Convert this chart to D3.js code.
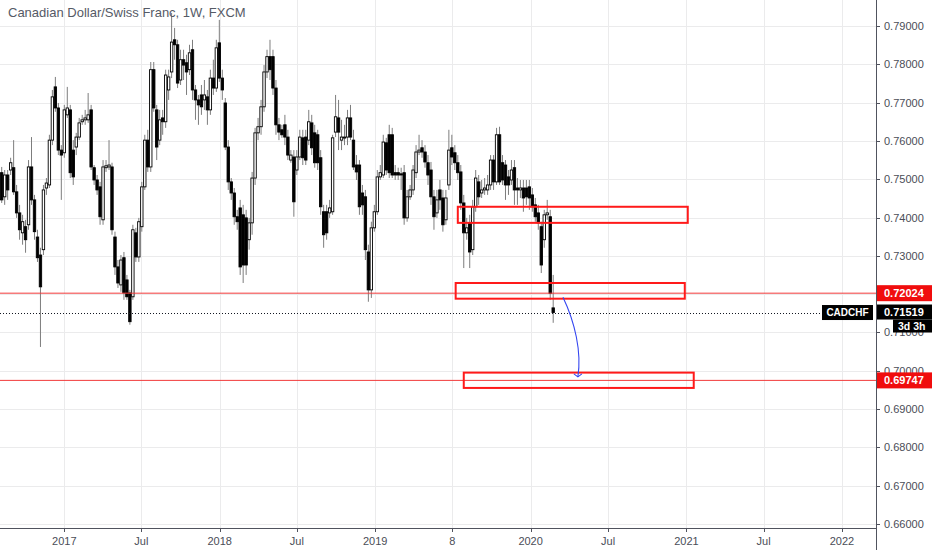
<!DOCTYPE html>
<html lang="en">
<head>
    <meta charset="UTF-8">
    <title>CADCHF 1W</title>
    <script src="https://cdn.jsdelivr.net/npm/d3@7/dist/d3.min.js" charset="utf-8"></script>
    <style>
        body { margin: 0; background: #ffffff; }
        text { font-family: "Liberation Sans", Arial, sans-serif; }
    </style>
</head>
<body>

<script>
    // weekly candles, first bar = week of 2016-08-07
    var firstWeek = new Date(2016, 7, 7);
    var opens = [
        .7517,.7454,.7511,.7524,.7530,.7467,.7412,.7360,.7376,.7381,.7532,.7446,.7349,.7302,.7316,.7477,.7485,.7602,.7741,.7686,
        .7576,.7569,.7668,.7681,.7576,.7584,.7610,.7650,.7655,.7655,.7681,.7530,.7498,.7480,.7394,.7530,.7532,.7532,.7349,.7271,
        .7224,.7295,.7237,.7203,.7193,.7360,.7297,.7376,.7480,.7602,.7532,.7786,.7681,.7602,.7660,.7650,.7733,.7780,.7864,.7851,
        .7759,.7812,.7804,.7786,.7838,.7733,.7707,.7720,.7707,.7715,.7681,.7764,.7738,.7856,.7764,.7699,.7584,.7493,.7464,.7402,
        .7425,.7407,.7399,.7342,.7386,.7503,.7621,.7637,.7689,.7780,.7820,.7820,.7738,.7642,.7629,.7642,.7610,.7550,.7558,.7524,
        .7558,.7608,.7610,.7602,.7647,.7621,.7616,.7556,.7415,.7415,.7412,.7415,.7623,.7660,.7602,.7608,.7610,.7660,.7602,.7537,
        .7537,.7464,.7454,.7310,.7211,.7373,.7415,.7506,.7511,.7595,.7616,.7616,.7517,.7517,.7514,.7517,.7399,.7454,.7472,.7517,
        .7571,.7582,.7571,.7543,.7524,.7454,.7412,.7472,.7451,.7394,.7485,.7582,.7569,.7543,.7519,.7438,.7360,.7386,.7316,.7428,
        .7493,.7464,.7472,.7472,.7485,.7550,.7493,.7616,.7543,.7537,.7506,.7498,.7530,.7477,.7472,.7477,.7477,.7480,.7459,.7433,
        .7412,.7376,.7342,.7407,.7402,.7164
    ];
    var highs = [
        .7532,.7524,.7524,.7556,.7602,.7485,.7433,.7407,.7394,.7550,.7610,.7459,.7368,.7321,.7485,.7503,.7616,.7733,.7767,.7699,
        .7589,.7694,.7741,.7694,.7602,.7621,.7660,.7668,.7681,.7725,.7694,.7537,.7511,.7493,.7550,.7550,.7602,.7543,.7363,.7289,
        .7302,.7310,.7250,.7211,.7381,.7373,.7399,.7493,.7616,.7629,.7806,.7806,.7694,.7681,.7681,.7786,.7786,.7934,.7895,.7864,
        .7838,.7838,.7825,.7851,.7864,.7746,.7720,.7746,.7759,.7733,.7786,.7812,.7864,.7916,.7786,.7712,.7602,.7503,.7477,.7420,
        .7446,.7433,.7420,.7399,.7519,.7634,.7660,.7707,.7798,.7838,.7864,.7838,.7759,.7660,.7642,.7668,.7629,.7576,.7576,.7576,
        .7629,.7629,.7629,.7681,.7668,.7642,.7629,.7576,.7433,.7433,.7446,.7616,.7720,.7707,.7655,.7642,.7681,.7694,.7629,.7563,
        .7550,.7485,.7472,.7329,.7389,.7433,.7524,.7537,.7616,.7608,.7642,.7634,.7537,.7530,.7530,.7537,.7472,.7485,.7537,.7589,
        .7616,.7602,.7589,.7563,.7545,.7472,.7472,.7498,.7472,.7472,.7629,.7616,.7589,.7563,.7537,.7459,.7399,.7407,.7446,.7524,
        .7511,.7498,.7503,.7511,.7563,.7563,.7634,.7637,.7563,.7550,.7524,.7550,.7550,.7503,.7498,.7498,.7498,.7498,.7477,.7451,
        .7433,.7389,.7420,.7446,.7420,.7250
    ];
    var lows = [
        .7438,.7433,.7446,.7511,.7459,.7399,.7342,.7329,.7308,.7368,.7433,.7342,.7284,.7062,.7302,.7459,.7477,.7589,.7676,.7563,
        .7446,.7556,.7660,.7503,.7485,.7563,.7602,.7642,.7642,.7647,.7524,.7485,.7459,.7381,.7381,.7519,.7524,.7355,.7250,.7216,
        .7206,.7185,.7185,.7120,.7185,.7284,.7284,.7363,.7472,.7519,.7519,.7676,.7550,.7589,.7616,.7634,.7707,.7764,.7812,.7738,
        .7746,.7759,.7720,.7772,.7707,.7655,.7642,.7668,.7681,.7642,.7668,.7720,.7728,.7754,.7707,.7576,.7472,.7446,.7381,.7368,
        .7250,.7229,.7250,.7316,.7355,.7485,.7602,.7616,.7676,.7764,.7759,.7720,.7616,.7602,.7608,.7589,.7550,.7543,.7402,.7511,
        .7550,.7537,.7537,.7589,.7563,.7530,.7524,.7407,.7321,.7342,.7399,.7407,.7610,.7576,.7576,.7589,.7589,.7602,.7524,.7498,
        .7407,.7407,.7289,.7180,.7190,.7363,.7407,.7498,.7503,.7511,.7503,.7503,.7498,.7498,.7472,.7381,.7389,.7446,.7459,.7503,
        .7563,.7556,.7530,.7485,.7433,.7368,.7399,.7420,.7363,.7381,.7472,.7537,.7524,.7498,.7420,.7268,.7342,.7268,.7302,.7415,
        .7433,.7451,.7459,.7459,.7472,.7472,.7485,.7485,.7485,.7446,.7459,.7485,.7433,.7433,.7451,.7415,.7433,.7420,.7415,.7389,
        .7368,.7255,.7321,.7394,.7185,.7125
    ];
    var closes = [
        .7446,.7511,.7472,.7543,.7467,.7412,.7368,.7389,.7342,.7532,.7446,.7363,.7295,.7219,.7472,.7490,.7602,.7715,.7686,.7576,
        .7563,.7681,.7686,.7517,.7506,.7610,.7647,.7655,.7660,.7668,.7532,.7498,.7472,.7402,.7532,.7535,.7537,.7368,.7271,.7229,
        .7289,.7203,.7193,.7128,.7368,.7297,.7389,.7480,.7602,.7532,.7786,.7686,.7584,.7655,.7650,.7772,.7767,.7858,.7851,.7751,
        .7812,.7798,.7780,.7830,.7733,.7707,.7694,.7689,.7720,.7681,.7764,.7738,.7843,.7764,.7733,.7584,.7493,.7464,.7402,.7389,
        .7271,.7276,.7276,.7386,.7503,.7621,.7637,.7689,.7780,.7820,.7786,.7738,.7642,.7623,.7616,.7610,.7563,.7563,.7441,.7558,
        .7610,.7556,.7550,.7650,.7582,.7543,.7543,.7428,.7355,.7360,.7425,.7608,.7663,.7623,.7610,.7610,.7660,.7610,.7532,.7519,
        .7428,.7433,.7316,.7211,.7373,.7415,.7506,.7517,.7597,.7524,.7517,.7511,.7511,.7511,.7511,.7399,.7454,.7472,.7524,.7571,
        .7576,.7571,.7545,.7511,.7454,.7402,.7446,.7446,.7381,.7451,.7576,.7558,.7543,.7517,.7438,.7360,.7373,.7310,.7428,.7503,
        .7454,.7472,.7477,.7485,.7550,.7493,.7616,.7493,.7498,.7485,.7485,.7524,.7472,.7472,.7477,.7451,.7454,.7451,.7428,.7402,
        .7386,.7276,.7407,.7412,.7202,.71519
    ];

    var priceTicks = [0.66, 0.67, 0.68, 0.69, 0.70, 0.71, 0.72, 0.73, 0.74, 0.75, 0.76, 0.77, 0.78, 0.79];
    var timeTicks = [new Date(2017, 0, 1), new Date(2017, 6, 1), new Date(2018, 0, 1), new Date(2018, 6, 1),
                     new Date(2019, 0, 1), new Date(2019, 6, 1), new Date(2020, 0, 1), new Date(2020, 6, 1),
                     new Date(2021, 0, 1), new Date(2021, 6, 1), new Date(2022, 0, 1)];
    var timeTickLabels = ["2017", "Jul", "2018", "Jul", "2019", "8", "2020", "Jul", "2021", "Jul", "2022"];

    // drawings on the chart
    var levelPrices = [0.72024, 0.69747];
    var lastPrice = 0.71519;
    var zoneStart = [new Date(2019, 6, 14), new Date(2019, 6, 9), new Date(2019, 6, 28)];
    var zoneEnd = [new Date(2021, 0, 4), new Date(2020, 11, 28), new Date(2021, 0, 18)];
    var zoneTop = [0.7428, 0.7229, 0.6995];
    var zoneBottom = [0.7386, 0.7188, 0.6955];
    var arrowDates = [new Date(2020, 2, 17), new Date(2020, 3, 14), new Date(2020, 3, 30), new Date(2020, 3, 21)];
    var arrowPrices = [0.7192, 0.7127, 0.7049, 0.6984];

    // 画布
    var width = 932;
    var height = 550;
    var plotRight = 876;
    var plotBottom = 528;

    var svg = d3.select("body")
        .append("svg")
        .attr("width", width)
        .attr("height", height);

    var x = d3.scaleTime()
        .domain([new Date(2016, 7, 3), new Date(2022, 2, 22)])
        .range([0, plotRight]);
    var y = d3.scaleLinear()
        .domain([0.66, 0.79])
        .range([523.9, 26]);

    svg.append("defs").append("clipPath")
        .attr("id", "plot")
        .append("rect")
        .attr("x", 0).attr("y", 0)
        .attr("width", plotRight).attr("height", plotBottom);

    // grid
    var grid = svg.append("g");
    grid.selectAll("line.h")
        .data(priceTicks)
        .enter().append("line")
        .attr("x1", 0).attr("x2", plotRight)
        .attr("y1", function (d) { return Math.round(y(d)) + 0.5; })
        .attr("y2", function (d) { return Math.round(y(d)) + 0.5; })
        .attr("stroke", "#ebebec");
    grid.selectAll("line.v")
        .data(timeTicks)
        .enter().append("line")
        .attr("y1", 0).attr("y2", plotBottom)
        .attr("x1", function (d) { return Math.round(x(d)) + 0.5; })
        .attr("x2", function (d) { return Math.round(x(d)) + 0.5; })
        .attr("stroke", "#ebebec");

    // candles
    var candles = closes.map(function (c, i) {
        return {date: d3.timeWeek.offset(firstWeek, i), o: opens[i], h: highs[i], l: lows[i], c: c};
    });

    var chart = svg.append("g").attr("clip-path", "url(#plot)");

    chart.selectAll("line.wick")
        .data(candles)
        .enter().append("line")
        .attr("x1", function (d) { return x(d.date); })
        .attr("x2", function (d) { return x(d.date); })
        .attr("y1", function (d) { return y(d.h); })
        .attr("y2", function (d) { return y(d.l); })
        .attr("stroke", "#7d7d7d")
        .attr("stroke-width", 1);

    chart.selectAll("rect.body")
        .data(candles)
        .enter().append("rect")
        .attr("x", function (d) { return x(d.date) - 1.2; })
        .attr("width", 2.4)
        .attr("y", function (d) { return y(Math.max(d.o, d.c)); })
        .attr("height", function (d) { return Math.max(1, Math.abs(y(d.o) - y(d.c))); })
        .attr("fill", function (d) { return d.c >= d.o ? "#ffffff" : "#000000"; })
        .attr("stroke", "#000000")
        .attr("stroke-width", 0.9);

    // horizontal levels
    chart.selectAll("line.level")
        .data(levelPrices)
        .enter().append("line")
        .attr("x1", 0).attr("x2", plotRight)
        .attr("y1", function (d) { return y(d); })
        .attr("y2", function (d) { return y(d); })
        .attr("stroke", "#f23a3a")
        .attr("stroke-width", 1);

    chart.append("line")
        .attr("x1", 0).attr("x2", 822)
        .attr("y1", Math.round(y(lastPrice)) + 0.5)
        .attr("y2", Math.round(y(lastPrice)) + 0.5)
        .attr("stroke", "#131722")
        .attr("stroke-dasharray", "1,2");

    // zones
    chart.selectAll("rect.zone")
        .data(zoneStart)
        .enter().append("rect")
        .attr("x", function (d) { return x(d); })
        .attr("y", function (d, i) { return y(zoneTop[i]); })
        .attr("width", function (d, i) { return x(zoneEnd[i]) - x(d); })
        .attr("height", function (d, i) { return y(zoneBottom[i]) - y(zoneTop[i]); })
        .attr("fill", "none")
        .attr("stroke", "#ff1a1a")
        .attr("stroke-width", 2);

    // arrow
    var p = d3.path();
    p.moveTo(x(arrowDates[0]), y(arrowPrices[0]));
    p.bezierCurveTo(x(arrowDates[1]), y(arrowPrices[1]), x(arrowDates[2]), y(arrowPrices[2]),
        x(arrowDates[3]), y(arrowPrices[3]));
    chart.append("path")
        .attr("d", p.toString())
        .attr("fill", "none")
        .attr("stroke", "#3446f0")
        .attr("stroke-width", 1.1);
    var ex = x(arrowDates[3]), ey = y(arrowPrices[3]);
    chart.append("path")
        .attr("d", "M" + (ex - 4) + "," + (ey - 3) + "L" + ex + "," + ey + "L" + (ex + 4) + "," + (ey - 3))
        .attr("fill", "none")
        .attr("stroke", "#3446f0")
        .attr("stroke-width", 1.1);

    // axes
    svg.append("line")
        .attr("x1", plotRight + 0.5).attr("x2", plotRight + 0.5)
        .attr("y1", 0).attr("y2", height)
        .attr("stroke", "#50535e");
    svg.append("line")
        .attr("x1", 0).attr("x2", plotRight)
        .attr("y1", plotBottom + 0.5).attr("y2", plotBottom + 0.5)
        .attr("stroke", "#50535e");

    var yAxis = svg.append("g");
    yAxis.selectAll("line")
        .data(priceTicks)
        .enter().append("line")
        .attr("x1", plotRight).attr("x2", plotRight + 4)
        .attr("y1", function (d) { return Math.round(y(d)) + 0.5; })
        .attr("y2", function (d) { return Math.round(y(d)) + 0.5; })
        .attr("stroke", "#50535e");
    yAxis.selectAll("text")
        .data(priceTicks)
        .enter().append("text")
        .attr("x", plotRight + 8)
        .attr("y", function (d) { return y(d) + 4; })
        .attr("font-size", 11)
        .attr("fill", "#4a4d57")
        .text(function (d) { return d3.format(".5f")(d); });

    var xAxis = svg.append("g");
    xAxis.selectAll("line")
        .data(timeTicks)
        .enter().append("line")
        .attr("x1", function (d) { return Math.round(x(d)) + 0.5; })
        .attr("x2", function (d) { return Math.round(x(d)) + 0.5; })
        .attr("y1", plotBottom).attr("y2", plotBottom + 4)
        .attr("stroke", "#50535e");
    xAxis.selectAll("text")
        .data(timeTicks)
        .enter().append("text")
        .attr("x", function (d) { return x(d); })
        .attr("y", 545)
        .attr("text-anchor", "middle")
        .attr("font-size", 11)
        .attr("fill", "#4a4d57")
        .text(function (d, i) { return timeTickLabels[i]; });

    // price labels on the axis
    levelPrices.forEach(function (v) {
        svg.append("rect")
            .attr("x", plotRight + 1).attr("y", y(v) - 8)
            .attr("width", width - plotRight).attr("height", 16)
            .attr("fill", "#f00d0d");
        svg.append("text")
            .attr("x", plotRight + 8).attr("y", y(v) + 4)
            .attr("font-size", 11).attr("font-weight", "bold")
            .attr("fill", "#ffffff")
            .text(d3.format(".5f")(v));
    });

    var ly = y(lastPrice);
    svg.append("rect")
        .attr("x", 822).attr("y", ly - 7.5)
        .attr("width", 51).attr("height", 15)
        .attr("fill", "#000000");
    svg.append("text")
        .attr("x", 847.5).attr("y", ly + 3.5)
        .attr("text-anchor", "middle")
        .attr("font-size", 10).attr("font-weight", "bold")
        .attr("fill", "#ffffff")
        .text("CADCHF");
    svg.append("rect")
        .attr("x", plotRight + 1).attr("y", ly - 8)
        .attr("width", width - plotRight).attr("height", 15)
        .attr("fill", "#000000");
    svg.append("text")
        .attr("x", plotRight + 8).attr("y", ly + 3.5)
        .attr("font-size", 11).attr("font-weight", "bold")
        .attr("fill", "#ffffff")
        .text(d3.format(".5f")(lastPrice));
    svg.append("rect")
        .attr("x", 893).attr("y", ly + 7)
        .attr("width", width - 893).attr("height", 13)
        .attr("fill", "#000000");
    svg.append("text")
        .attr("x", 898).attr("y", ly + 17)
        .attr("font-size", 10.5).attr("font-weight", "bold")
        .attr("fill", "#ffffff")
        .text("3d 3h");

    // title
    svg.append("text")
        .attr("x", 8).attr("y", 17)
        .attr("font-size", 13)
        .attr("fill", "#555a66")
        .text("Canadian Dollar/Swiss Franc, 1W, FXCM");
</script>
</body>
</html>
